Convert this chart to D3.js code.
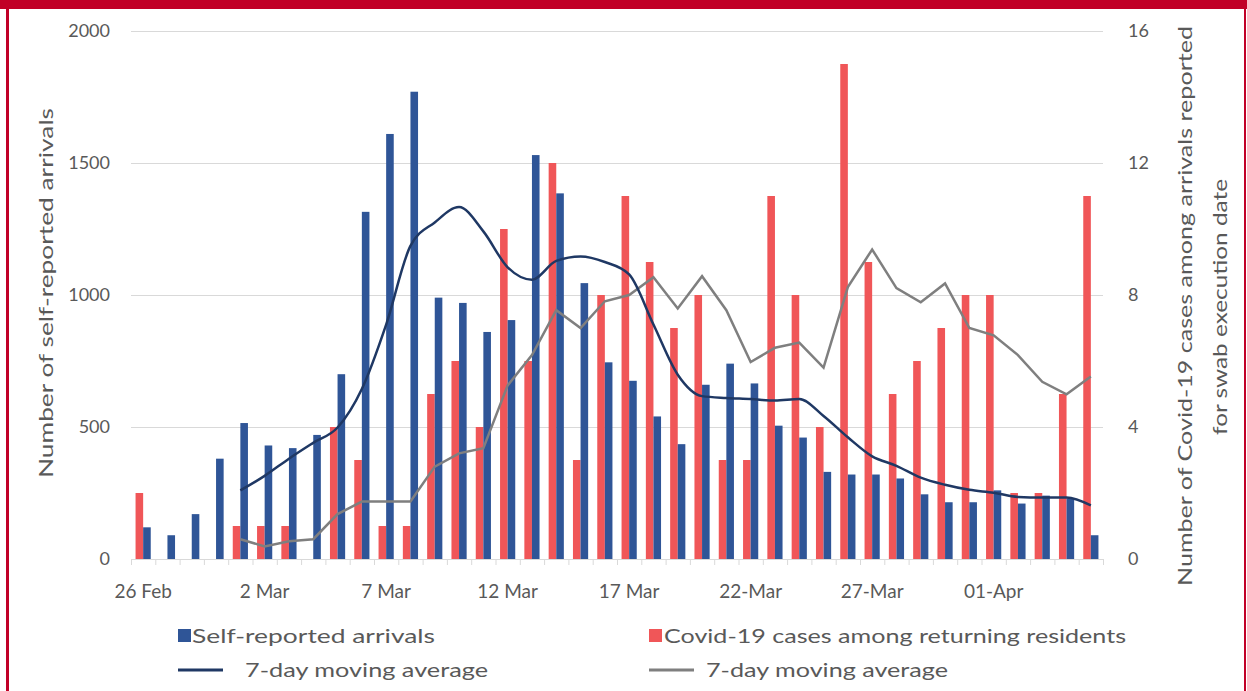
<!DOCTYPE html>
<html>
<head>
<meta charset="utf-8">
<script src="https://cdn.jsdelivr.net/npm/d3@7"></script>
<style>
    body { margin: 0; background: #fff; }
    svg text { font-family: Lato, "Open Sans", sans-serif; fill: #595959; }
</style>
</head>
<body>
<svg id="drawing_region"></svg>
<script>
// one entry per day, 26 Feb -> 5 Apr 2020
const days = d3.timeDay.range(new Date(2020, 1, 26), new Date(2020, 3, 6));
const tickLabels = ["26 Feb", "2 Mar", "7 Mar", "12 Mar", "17 Mar", "22-Mar", "27-Mar", "01-Apr"];

const arrivals = [120, 90, 170, 380, 515, 430, 420, 470, 700, 1315,
    1610, 1770, 990, 970, 860, 905, 1530, 1385, 1045, 745,
    675, 540, 435, 660, 740, 665, 505, 460, 330, 320,
    320, 305, 245, 215, 215, 260, 210, 240, 230, 90];
const cases = [2, 0, 0, 0, 1, 1, 1, 0, 4, 3,
    1, 1, 5, 6, 4, 10, 6, 12, 3, 8,
    11, 9, 7, 8, 3, 3, 11, 8, 4, 15,
    9, 5, 6, 7, 8, 8, 2, 2, 5, 11];
const arrivalsAvg = [null, null, null, null, 260, 315, 380, 440, 498, 644,
    888, 1186, 1275, 1333, 1241, 1105, 1058, 1129, 1146, 1125,
    1078, 888, 698, 617, 610, 606, 600, 606, 542, 461,
    389, 353, 308, 281, 262, 251, 235, 233, 233, 203];
const casesAvg = [null, null, null, null, 0.6, 0.38, 0.54, 0.6, 1.36, 1.74,
    1.74, 1.74, 2.8, 3.2, 3.36, 5.26, 6.18, 7.54, 7.0, 7.81,
    8.0, 8.54, 7.59, 8.57, 7.54, 5.97, 6.4, 6.56, 5.8, 8.24,
    9.38, 8.21, 7.78, 8.35, 7.0, 6.78, 6.18, 5.37, 4.99, 5.53];

const leftTicks = [0, 500, 1000, 1500, 2000];
const rightTicks = [0, 4, 8, 12, 16];

const data = days.map((d, i) => ({
    day: d,
    arrivals: arrivals[i],
    cases: cases[i],
    arrivalsAvg: arrivalsAvg[i],
    casesAvg: casesAvg[i]
}));

var config = {
    parent: '#drawing_region',
    width: 1247,
    height: 691,
    margin: {top: 31, right: 144, bottom: 132, left: 131},
};

class ComboChart {
    constructor(config, data) {
        this.config = config;
        this.data = data;
        this.init();
    }
    init() {
        let self = this;

        self.svg = d3.select(self.config.parent)
            .attr('width', self.config.width)
            .attr('height', self.config.height);

        // red frame around the figure
        self.svg.append('rect').attr('x', 0).attr('y', 0)
            .attr('width', self.config.width).attr('height', 9).attr('fill', '#c10027');
        self.svg.append('rect').attr('x', 6).attr('y', 0)
            .attr('width', 3).attr('height', self.config.height).attr('fill', '#c10027');
        self.svg.append('rect').attr('x', 1244).attr('y', 0)
            .attr('width', 2).attr('height', self.config.height).attr('fill', '#c10027');

        self.chart = self.svg.append('g')
            .attr('transform', `translate(${self.config.margin.left}, ${self.config.margin.top})`);
        self.inner_width = self.config.width - self.config.margin.left - self.config.margin.right;
        self.inner_height = self.config.height - self.config.margin.top - self.config.margin.bottom;

        self.xscale = d3.scaleBand()
            .domain(self.data.map(d => d.day))
            .range([0, self.inner_width]);
        self.xsub = d3.scaleBand()
            .domain(['cases', 'arrivals'])
            .range([0, self.xscale.step()])
            .paddingOuter(0.6);
        self.xindex = d3.scaleLinear()
            .domain([0, self.data.length])
            .range([0, self.inner_width]);

        self.yleft = d3.scaleLinear().domain([0, 2000]).range([self.inner_height, 0]);
        self.yright = d3.scaleLinear().domain([0, 16]).range([self.inner_height, 0]);
    }
    render() {
        let self = this;
        const W = self.inner_width, H = self.inner_height;

        // gridlines
        self.chart.append('g')
            .call(d3.axisLeft(self.yleft).tickValues(leftTicks.slice(1)).tickSize(-W).tickFormat(''))
            .call(g => g.select('.domain').remove())
            .call(g => g.selectAll('line').attr('stroke', '#d9d9d9'));

        // left axis labels
        self.chart.append('g')
            .call(d3.axisLeft(self.yleft).tickValues(leftTicks).tickFormat(d3.format('d'))
                .tickSize(0).tickPadding(21))
            .call(g => g.select('.domain').remove())
            .call(g => g.selectAll('text').attr('font-size', 18).attr('fill', '#595959')
                .style('font-family', 'Lato, sans-serif'));

        // right axis labels
        self.chart.append('g')
            .attr('transform', `translate(${W}, 0)`)
            .call(d3.axisRight(self.yright).tickValues(rightTicks).tickSize(0).tickPadding(25))
            .call(g => g.select('.domain').remove())
            .call(g => g.selectAll('text').attr('font-size', 18).attr('fill', '#595959')
                .style('font-family', 'Lato, sans-serif'));

        // bars
        const groups = self.chart.selectAll('.day')
            .data(self.data)
            .join('g')
            .attr('transform', d => `translate(${self.xscale(d.day)}, 0)`);
        groups.append('rect')
            .attr('x', self.xsub('cases'))
            .attr('width', self.xsub.bandwidth())
            .attr('y', d => self.yright(d.cases))
            .attr('height', d => H - self.yright(d.cases))
            .attr('fill', '#f05658');
        groups.append('rect')
            .attr('x', self.xsub('arrivals'))
            .attr('width', self.xsub.bandwidth())
            .attr('y', d => self.yleft(d.arrivals))
            .attr('height', d => H - self.yleft(d.arrivals))
            .attr('fill', '#2f5597');

        // x axis line + day ticks
        self.chart.append('g')
            .attr('transform', `translate(0, ${H})`)
            .call(d3.axisBottom(self.xindex).tickValues(d3.range(self.data.length + 1))
                .tickSize(6).tickSizeOuter(0).tickFormat(''))
            .call(g => g.selectAll('line, path').attr('stroke', '#d9d9d9'));

        // x labels every 5 days
        self.chart.append('g')
            .attr('transform', `translate(0, ${H})`)
            .call(d3.axisBottom(self.xscale)
                .tickValues(self.data.filter((d, i) => i % 5 === 0).map(d => d.day))
                .tickFormat((d, i) => tickLabels[i])
                .tickSize(0))
            .call(g => g.select('.domain').remove())
            .call(g => g.selectAll('text').attr('y', 32).attr('dy', '0.35em')
                .attr('font-size', 19).attr('fill', '#595959')
                .style('font-family', 'Lato, sans-serif'));

        // moving averages
        const cx = d => self.xscale(d.day) + self.xscale.step() / 2;
        const arrLine = d3.line()
            .defined(d => d.arrivalsAvg !== null)
            .x(cx).y(d => self.yleft(d.arrivalsAvg))
            .curve(d3.curveMonotoneX);
        const caseLine = d3.line()
            .defined(d => d.casesAvg !== null)
            .x(cx).y(d => self.yright(d.casesAvg));

        self.chart.append('path')
            .datum(self.data)
            .attr('d', caseLine)
            .attr('fill', 'none')
            .attr('stroke', '#7f7f7f')
            .attr('stroke-width', 2.5);
        self.chart.append('path')
            .datum(self.data)
            .attr('d', arrLine)
            .attr('fill', 'none')
            .attr('stroke', '#1f3864')
            .attr('stroke-width', 2.5);

        // axis titles
        self.svg.append('text')
            .attr('transform', 'translate(46, 293) rotate(-90)')
            .attr('text-anchor', 'middle').attr('dy', '0.35em')
            .attr('font-size', 20)
            .attr('textLength', 370).attr('lengthAdjust', 'spacingAndGlyphs')
            .text('Number of self-reported arrivals');
        self.svg.append('text')
            .attr('transform', 'translate(1185, 306) rotate(-90)')
            .attr('text-anchor', 'middle').attr('dy', '0.35em')
            .attr('font-size', 20)
            .attr('textLength', 560).attr('lengthAdjust', 'spacingAndGlyphs')
            .text('Number of Covid-19 cases among arrivals reported');
        self.svg.append('text')
            .attr('transform', 'translate(1220, 307) rotate(-90)')
            .attr('text-anchor', 'middle').attr('dy', '0.35em')
            .attr('font-size', 20)
            .attr('textLength', 256).attr('lengthAdjust', 'spacingAndGlyphs')
            .text('for swab execution date');

        // legend
        const legend = self.svg.append('g');
        const items = [
            {type: 'box', color: '#2f5597', x: 178, y: 636, tx: 192, len: 243, label: 'Self-reported arrivals'},
            {type: 'box', color: '#f05658', x: 649, y: 636, tx: 664, len: 462, label: 'Covid-19 cases among returning residents'},
            {type: 'line', color: '#1f3864', x: 178, y: 670, tx: 245, len: 243, label: '7-day moving average'},
            {type: 'line', color: '#7f7f7f', x: 649, y: 670, tx: 706, len: 242, label: '7-day moving average'},
        ];
        items.forEach(it => {
            if (it.type === 'box') {
                legend.append('rect').attr('x', it.x).attr('y', it.y - 7)
                    .attr('width', 13).attr('height', 13).attr('fill', it.color);
            } else {
                legend.append('line').attr('x1', it.x).attr('x2', it.x + 45)
                    .attr('y1', it.y).attr('y2', it.y)
                    .attr('stroke', it.color).attr('stroke-width', 3);
            }
            legend.append('text').attr('x', it.tx).attr('y', it.y).attr('dy', '0.35em')
                .attr('font-size', 20)
                .attr('textLength', it.len).attr('lengthAdjust', 'spacingAndGlyphs')
                .text(it.label);
        });
    }
}

const chart = new ComboChart(config, data);
chart.render();
</script>
</body>
</html>
